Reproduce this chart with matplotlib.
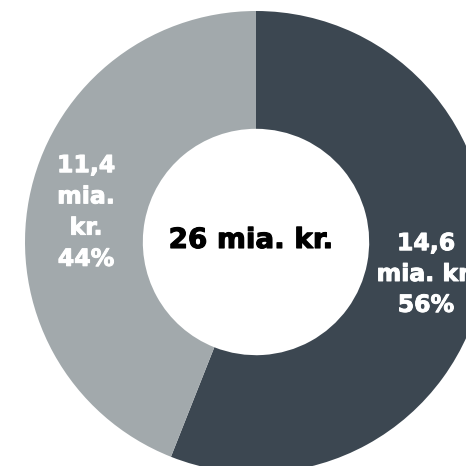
import matplotlib.pyplot as plt
import matplotlib.patheffects as pe

plt.rcParams['font.family'] = ['DejaVu Sans']

# data
shares = [56, 44]
labels = ['14,6\nmia. kr.\n56%', '11,4\nmia.\nkr.\n44%']
total_label = '26 mia. kr.'
colors = ['#3c4751', '#a2a9ac']

fig = plt.figure(figsize=(4.66, 4.66), dpi=100)
ax = fig.add_axes([0, 0, 1, 1])

cx, cy, r = 256, 224, 231
ax.pie(shares, colors=colors, startangle=90, counterclock=False,
       center=(cx, cy), radius=r, frame=True,
       wedgeprops=dict(width=r * 0.51, linewidth=0))
ax.set_xlim(0, 466)
ax.set_ylim(0, 466)
ax.set_aspect('equal')
ax.axis('off')

ax.text(cx - 5, cy + 2, total_label, ha='center', va='center',
        fontsize=20, fontweight='bold', color='black',
        path_effects=[pe.withStroke(linewidth=0.8, foreground='black')])

fat = [pe.withStroke(linewidth=0.7, foreground='white')]
ax.text(426, 466 - 274, labels[0], ha='center', va='center',
        fontsize=17, fontweight='bold', color='white', linespacing=1.36,
        path_effects=fat)
ax.text(86, 466 - 212, labels[1], ha='center', va='center',
        fontsize=17, fontweight='bold', color='white', linespacing=1.38,
        path_effects=fat)

fig.savefig('out.png', dpi=100)
